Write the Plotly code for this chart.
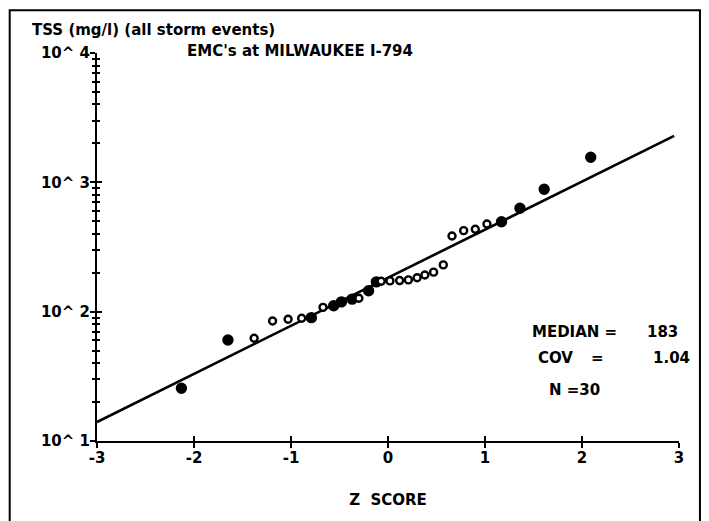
import math
import plotly.graph_objects as go

# Z scores (normal plotting positions) and event mean concentrations, mg/l
z_scores = [-2.13, -1.65, -1.38, -1.19, -1.03, -0.89, -0.79, -0.67, -0.56, -0.48,
            -0.37, -0.30, -0.20, -0.12, -0.07, 0.02, 0.12, 0.21, 0.30, 0.38,
            0.47, 0.57, 0.66, 0.78, 0.90, 1.02, 1.17, 1.36, 1.61, 2.09]
tss = [25.6, 60.4, 62.3, 84.7, 87.3, 88.9, 89.9, 108, 111, 119,
       125, 127, 145, 170, 172, 173, 174, 176, 183, 192,
       202, 230, 385, 423, 434, 476, 496, 631, 885, 1564]

# summary statistics of the fitted lognormal line
median = 183
cov = 1.04
n_events = len(tss)

# tick labels
x_ticks = [-3, -2, -1, 0, 1, 2, 3]
x_tick_text = ["-3", "-2", "-1", "0", "1", "2", "3"]
y_ticks = [10, 100, 1000, 10000]
y_tick_text = ["10^ 1", "10^ 2", "10^ 3", "10^ 4"]

# which symbols printed solid
solid = [True, True, False, False, False, False, True, False, True, True,
         True, False, True, True, False, False, False, False, False, False,
         False, False, False, False, False, False, True, True, True, True]

# lognormal fit line: log10(C) = log10(median) + z * sigma10
sigma10 = math.sqrt(math.log(1 + cov ** 2)) / math.log(10)
z_line = [-3, 2.95]
c_line = [10 ** (math.log10(median) + z * sigma10) for z in z_line]

FONT = dict(family="DejaVu Sans", size=15, color="black", weight="bold")

fig = go.Figure()
fig.add_trace(go.Scatter(x=z_line, y=c_line, mode="lines",
                         line=dict(color="black", width=2.6), hoverinfo="skip"))
fig.add_trace(go.Scatter(
    x=z_scores, y=tss, mode="markers",
    marker=dict(symbol="circle", size=[9 if s else 7 for s in solid],
                color=["black" if s else "white" for s in solid],
                opacity=1, line=dict(color="black", width=2.4))))
# carrier for the inner tick axes
fig.add_trace(go.Scatter(x=[None], y=[None], xaxis="x2", yaxis="y2",
                         mode="markers", showlegend=False))

minor_y = [m * 10 ** e for e in (1, 2, 3) for m in range(2, 10)]

axis_common = dict(showgrid=False, zeroline=False, linecolor="black",
                   linewidth=2, tickcolor="black", tickwidth=2)

fig.update_layout(
    width=709, height=521,
    margin=dict(l=97, r=30, t=53, b=80),
    paper_bgcolor="white", plot_bgcolor="white",
    showlegend=False,
    font=FONT,
    xaxis=dict(range=[-3, 3], tickmode="array", tickvals=x_ticks,
               ticktext=x_tick_text, ticks="outside", ticklen=5,
               tickfont=FONT, showline=True, ticklabelstandoff=-3,
               title=dict(text="Z  SCORE", font=FONT, standoff=28),
               **axis_common),
    yaxis=dict(type="log", range=[1, 4], tickmode="array", tickvals=y_ticks,
               ticktext=y_tick_text, ticks="outside", ticklen=5,
               tickfont=FONT, showline=True, ticklabelstandoff=-3,
               minor=dict(tickmode="array", tickvals=minor_y, ticks="outside",
                          ticklen=3, tickwidth=2, tickcolor="black"),
               **axis_common),
    xaxis2=dict(overlaying="x", anchor="y2", range=[-3, 3], tickmode="array",
                tickvals=x_ticks, ticks="inside", ticklen=5,
                showticklabels=False, showline=False, **axis_common),
    yaxis2=dict(overlaying="y", anchor="x2", type="log", range=[1, 4],
                tickmode="array", tickvals=y_ticks, ticks="inside", ticklen=5,
                showticklabels=False, showline=False,
                minor=dict(tickmode="array", tickvals=minor_y, ticks="inside",
                           ticklen=3, tickwidth=2, tickcolor="black"),
                **axis_common),
)

# page frame
fig.add_shape(type="rect", xref="paper", yref="paper",
              x0=-0.15, x1=1.036, y0=-0.25, y1=1.11,
              line=dict(color="black", width=2))

def note(text, x, y, xanchor="left"):
    fig.add_annotation(text=text, xref="paper", yref="paper", x=x, y=y,
                       xanchor=xanchor, yanchor="middle", showarrow=False,
                       font=FONT)

note("TSS (mg/l) (all storm events)", -0.115, 1.059)
note("EMC's at MILWAUKEE I-794", 0.151, 1.005)
note("MEDIAN =", 0.744, 0.281)
note(f"{median}", 0.942, 0.281)
note("COV", 0.754, 0.214)
note("=", 0.86, 0.214, "center")
note(f"{cov:.2f}", 1.022, 0.214, "right")
note(f"N ={n_events}", 0.773, 0.131)

fig.write_html("out.html")
